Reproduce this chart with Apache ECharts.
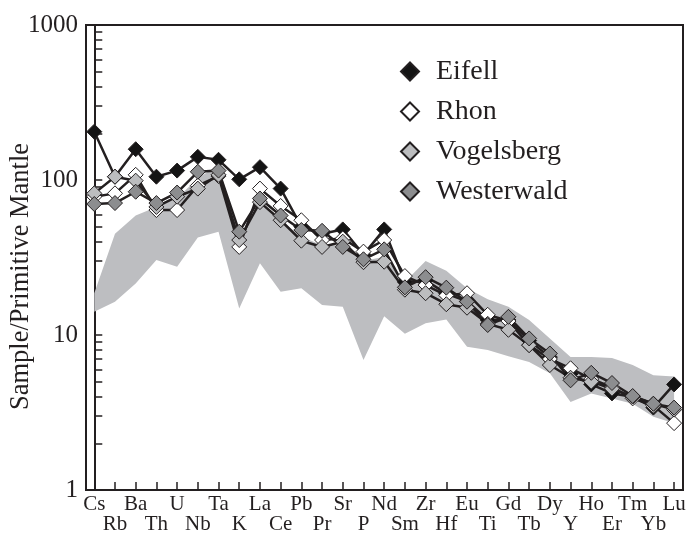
<!DOCTYPE html>
<html>
<head>
<meta charset="utf-8">
<script src="https://cdn.jsdelivr.net/npm/echarts@6/dist/echarts.min.js"></script>
<style>
  html, body { margin: 0; padding: 0; background: #fff; }
  #chart { width: 688px; height: 541px; }
</style>
</head>
<body>
<div id="chart"></div>
<script>
const elements = ['Cs', 'Rb', 'Ba', 'Th', 'U', 'Nb', 'Ta', 'K', 'La', 'Ce', 'Pb', 'Pr', 'Sr', 'P', 'Nd',
  'Sm', 'Zr', 'Hf', 'Eu', 'Ti', 'Gd', 'Tb', 'Dy', 'Y', 'Ho', 'Er', 'Tm', 'Yb', 'Lu'];

const eifell = [205, 105, 158, 105, 115, 141, 135, 101, 121, 88, 50, 45, 48, 33, 48,
  22, 22.5, 18.5, 16.5, 12.5, 12.5, 9.2, 7.2, 5.6, 4.8, 4.2, 4.0, 3.4, 4.8];
const rhon = [78, 82, 108, 64, 64, 92, 106, 37, 88, 68, 55, 41, 42, 34.5, 41,
  24, 21, 18, 18.6, 13.5, 12.3, 8.6, 7, 6.1, 5.2, 4.6, 3.9, 3.5, 2.7];
const vogelsberg = [82, 105, 99, 67, 78, 88, 108, 41, 72, 55, 40.6, 37, 40, 29.5, 29.7,
  19.6, 18.6, 15.8, 15, 11.8, 10.8, 8.6, 6.4, 5.3, 5.0, 4.5, 4.0, 3.6, 3.3];
const westerwald = [70, 71, 84, 71, 83, 113, 115, 46.4, 76, 59, 47.6, 47, 37, 30.8, 35.7,
  20.3, 23.6, 20.2, 16.4, 11.6, 13.1, 9.5, 7.6, 5.1, 5.7, 4.9, 4.04, 3.6, 3.4];

// grey field (upper / lower envelope)
const fieldUpper = [18.6, 45, 59, 67, 76, 103, 124, 44, 72, 55, 43, 38, 38, 30, 32,
  22, 30, 26, 20, 17, 15.2, 12.5, 9.5, 7.2, 7.2, 7.1, 6.4, 5.5, 5.4];
const fieldLower = [14.1, 16.4, 21.5, 30.5, 27.6, 42.6, 46.4, 14.8, 29, 19, 20, 15.6, 15.2, 6.9, 13.2,
  10.2, 11.9, 12.6, 8.4, 8.0, 7.3, 6.7, 5.66, 3.7, 4.2, 3.9, 3.6, 2.97, 2.7];

const yTicks = [1, 2, 3, 4, 5, 6, 7, 8, 9, 10, 20, 30, 40, 50, 60, 70, 80, 90,
  100, 200, 300, 400, 500, 600, 700, 800, 900, 1000];
const yLabels = [1, 10, 100, 1000];

const font = "'Liberation Serif', 'Times New Roman', serif";
const ink = '#231f20';

const idx = elements.map((e, i) => i);
const evenIdx = idx.filter(i => i % 2 === 0);
const oddIdx = idx.filter(i => i % 2 === 1);

const chart = echarts.init(document.getElementById('chart'));

function lineSeries(name, values, fill) {
  return {
    name: name,
    type: 'line',
    data: values.map((v, i) => [i, v]),
    symbol: 'diamond',
    symbolSize: 15,
    lineStyle: { color: ink, width: 2.5 },
    itemStyle: { color: fill, borderColor: ink, borderWidth: 1 },
    emphasis: { disabled: true },
    animation: false
  };
}

const xLabelStyle = { fontFamily: font, fontSize: 21, color: ink };

const option = {
  animation: false,
  grid: {
    left: 86, right: 5, top: 25, bottom: 51,
    outerBoundsMode: 'none',
    containLabel: false,
    show: true, borderColor: ink, borderWidth: 2
  },
  legend: {
    orient: 'vertical',
    left: 395,
    top: 52,
    icon: 'diamond',
    itemWidth: 18,
    itemHeight: 18,
    itemGap: 11,
    textStyle: { fontFamily: font, fontSize: 28, color: ink, lineHeight: 29, padding: [0, 0, 0, 12] },
    data: ['Eifell', 'Rhon', 'Vogelsberg', 'Westerwald']
  },
  xAxis: [
    {
      type: 'value',
      min: -0.4,
      max: 28.43,
      axisLine: { lineStyle: { color: ink, width: 2 } },
      axisTick: {
        inside: true, length: 8, lineStyle: { color: ink, width: 1.5 },
        customValues: idx
      },
      axisLabel: Object.assign({
        customValues: evenIdx,
        showMinLabel: true,
        showMaxLabel: true,
        formatter: v => elements[Math.round(v)],
        margin: 4
      }, xLabelStyle),
      splitLine: { show: false }
    },
    {
      type: 'value',
      position: 'bottom',
      min: -0.4,
      max: 28.43,
      axisLine: { show: false },
      axisTick: { show: false },
      axisLabel: Object.assign({
        customValues: oddIdx,
        showMinLabel: true,
        showMaxLabel: true,
        formatter: v => elements[Math.round(v)],
        margin: 24
      }, xLabelStyle),
      splitLine: { show: false }
    }
  ],
  yAxis: {
    type: 'log',
    logBase: 10,
    min: 1,
    max: 1000,
    name: 'Sample/Primitive Mantle',
    nameLocation: 'middle',
    nameRotate: 90,
    nameGap: 51,
    nameMoveOverlap: false,
    nameTextStyle: { fontFamily: font, fontSize: 26.5, color: ink, padding: [0, 38, 0, 0] },
    axisLine: { show: true, lineStyle: { color: ink, width: 2 } },
    axisTick: {
      inside: true, length: 8, lineStyle: { color: ink, width: 1.5 },
      customValues: yTicks
    },
    axisLabel: {
      customValues: yLabels,
      formatter: v => String(Math.round(v)),
      fontFamily: font, fontSize: 25, color: ink, margin: 8
    },
    splitLine: { show: false }
  },
  series: [
    {
      name: 'field',
      type: 'custom',
      silent: true,
      z: 1,
      data: [[0, 1]],
      renderItem: function (params, api) {
        const pts = [];
        fieldUpper.forEach((v, i) => pts.push(api.coord([i, v])));
        for (let i = fieldLower.length - 1; i >= 0; i--) pts.push(api.coord([i, fieldLower[i]]));
        return {
          type: 'polygon',
          shape: { points: pts },
          style: { fill: '#bdbec1', stroke: null }
        };
      }
    },
    lineSeries('Eifell', eifell, '#141414'),
    lineSeries('Rhon', rhon, '#ffffff'),
    lineSeries('Vogelsberg', vogelsberg, '#bcbdbf'),
    lineSeries('Westerwald', westerwald, '#8c8d8f')
  ]
};

chart.setOption(option);
</script>
</body>
</html>
